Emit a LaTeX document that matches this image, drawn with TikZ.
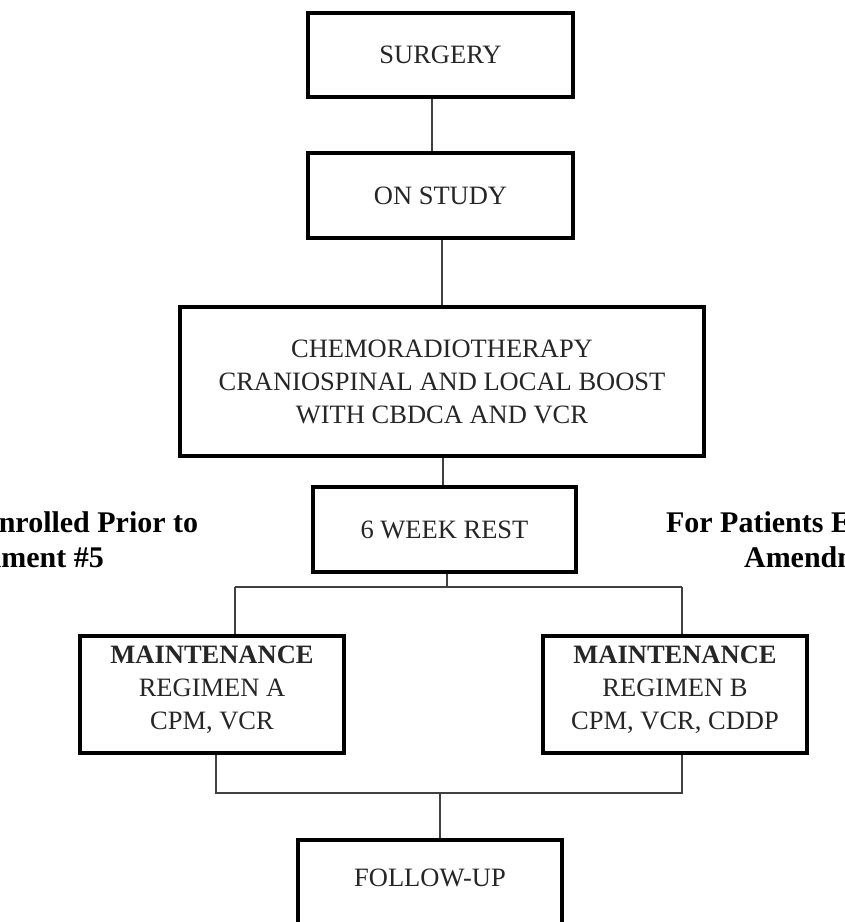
\documentclass[tikz,border=0pt]{standalone}
\usepackage{fontspec}
\setmainfont{Liberation Serif}
\tikzset{
  box/.style={draw=black, line width=3.5pt, rectangle, inner sep=0pt, align=center,
    font=\fontsize{26.5}{33}\selectfont, text=black!85},
  side/.style={inner sep=0pt, align=center, font=\fontsize{30}{35}\selectfont\bfseries, text=black},
  conn/.style={draw=black!75, line width=1.4pt}
}
\begin{document}
\begin{tikzpicture}[x=1pt,y=-1pt]
\useasboundingbox (0,0) rectangle (845,922);
\clip (0,0) rectangle (845,922);
\fill[white] (0,0) rectangle (845,922);

% boxes
\node[box, minimum width=265, minimum height=84] (surgery) at (440.5,55) {SURGERY};
\node[box, minimum width=265, minimum height=85] (onstudy) at (440.5,195.5) {ON STUDY};
\node[box, minimum width=524, minimum height=149] (chemo) at (442,381.5)
  {CHEMORADIOTHERAPY\\CRANIOSPINAL AND LOCAL BOOST\\WITH CBDCA AND VCR};
\node[box, minimum width=263, minimum height=85] (rest) at (444.5,529.5) {6 WEEK REST};
\node[box, minimum width=264, minimum height=117, text depth=13pt] (maintA) at (212,694.5)
  {\textbf{MAINTENANCE}\\REGIMEN A\\CPM, VCR};
\node[box, minimum width=264, minimum height=117, text depth=13pt] (maintB) at (675,694.5)
  {\textbf{MAINTENANCE}\\REGIMEN B\\CPM, VCR, CDDP};
\node[box, minimum width=264, minimum height=90, text depth=14pt] (follow) at (430,885) {FOLLOW-UP};

% side texts (cut by the page edge, as in the reference)
\node[side] (lefttxt) at (6,539.5) {For Patients Enrolled Prior to\\Amendment \#5};
\node[side] (righttxt) at (842,539.5) {For Patients Enrolled After\\Amendment \#5};

% connectors
\draw[conn] ([xshift=-8.5pt]surgery.south) -- ([xshift=-8.5pt]onstudy.north);
\draw[conn] ([xshift=1.5pt]onstudy.south) -- ([xshift=0pt]chemo.north);
\draw[conn] ([xshift=1pt]chemo.south) -- ([xshift=-1.5pt]rest.north);

\coordinate (jtop) at (447,587);
\coordinate (jl) at (235,587);
\coordinate (jr) at (682,587);
\draw[conn] (rest.south -| jtop) -- (jtop);
\draw[conn] (jl) -- (jr);
\draw[conn] (jl) -- (jl |- maintA.north);
\draw[conn] (jr) -- (jr |- maintB.north);

\coordinate (kl) at (216,793);
\coordinate (kr) at (682,793);
\coordinate (km) at (440,793);
\draw[conn] (maintA.south -| kl) -- (kl) -- (kr) -- (maintB.south -| kr);
\draw[conn] (km) -- (follow.north -| km);
\end{tikzpicture}
\end{document}
